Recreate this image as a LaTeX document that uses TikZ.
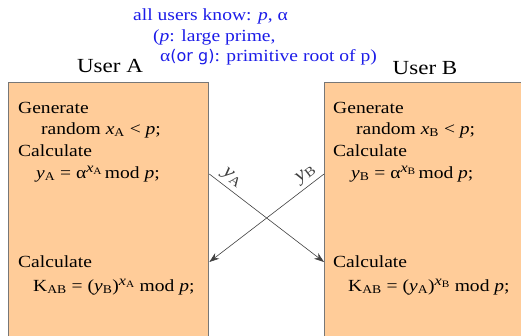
\documentclass[tikz,border=0pt]{standalone}
\usepackage{fontspec}
\setmainfont[FakeStretch=1.15]{Liberation Serif}
\newfontfamily\orfont{DejaVu Sans}
\usetikzlibrary{positioning, arrows.meta}
\definecolor{boxfill}{HTML}{FFCC99}
\definecolor{boxgray}{HTML}{777777}
\definecolor{hdrblue}{HTML}{1C1CE8}
\newcommand{\vA}{\textit{y}\textsubscript{A}}
\newcommand{\vB}{\textit{y}\textsubscript{B}}
\newcommand{\xA}{\textit{x}\textsubscript{A}}
\newcommand{\xB}{\textit{x}\textsubscript{B}}
\newcommand{\Kab}{K\textsubscript{AB}}
\newcommand{\pw}[1]{\raisebox{0.7ex}{\fontsize{14}{14}\selectfont #1}}

\begin{document}
\begin{tikzpicture}[x=1pt, y=-1pt, font=\fontsize{17}{20}\selectfont,
    userbox/.style={draw=boxgray, fill=boxfill, line width=1.3pt, minimum width=200pt, minimum height=280pt, anchor=north west},
    txt/.style={anchor=west, inner sep=0pt},
    hdr/.style={txt, text=hdrblue},
    user/.style={font=\fontsize{20}{24}\selectfont},
    msg/.style={-{Stealth[length=10pt, width=7pt]}, black!75, line width=0.6pt},
    lbl/.style={inner sep=4pt, font=\fontsize{19}{22}\selectfont}]
  \clip (0,0) rectangle (521,336);
  % header
  \node[hdr] (hdr1) at (133,16) {all users know: \textit{p}, α};
  \node[hdr] (hdr2) at (153,37) {(\textit{p}: large prime,};
  \node[hdr] (hdr3) at (160,57) {α{\orfont\fontsize{16}{18}\selectfont(or g)}: primitive root of p)};
  % the two users
  \node[userbox] (boxA) at (8,82) {};
  \node[userbox, minimum width=210pt] (boxB) at (324,82) {};
  \node[user] (userA) at (110,66) {User A};
  \node[user] (userB) at (425,68) {User B};
  % steps of A
  \node[txt] (genA) at (18,108) {Generate};
  \node[txt] (rndA) at (41,130) {random \xA{} < \textit{p};};
  \node[txt] (calcA) at (18,151) {Calculate};
  \node[txt] (yA) at (36,174) {\vA{} = α\pw{\xA}\,mod \textit{p};};
  \node[txt] (calcA2) at (18,262) {Calculate};
  \node[txt] (keyA) at (33,287) {\Kab{} = (\vB)\pw{\xA} mod \textit{p};};
  % steps of B
  \node[txt] (genB) at (333,108) {Generate};
  \node[txt] (rndB) at (356,130) {random \xB{} < \textit{p};};
  \node[txt] (calcB) at (333,151) {Calculate};
  \node[txt] (yB) at (351,174) {\vB{} = α\pw{\xB}\,mod \textit{p};};
  \node[txt] (calcB2) at (333,262) {Calculate};
  \node[txt] (keyB) at (348,287) {\Kab{} = (\vA)\pw{\xB} mod \textit{p};};
  % exchange
  \draw[msg] (boxA.east |- yA.center) -- node[lbl, pos=0.14, above, sloped] {\vA} (boxB.west |- calcB2.center);
  \draw[msg] (boxB.west |- yB.center) -- node[lbl, pos=0.1, above, sloped] {\vB} (boxA.east |- calcA2.center);
\end{tikzpicture}
\end{document}
